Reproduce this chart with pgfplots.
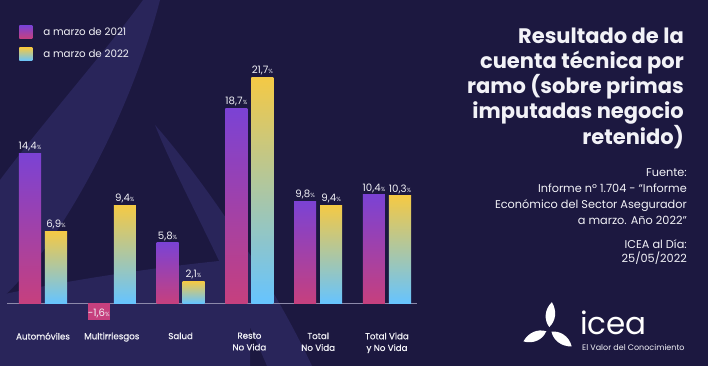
\documentclass[border=0pt]{standalone}
\usepackage{pgfplots}
\pgfplotsset{compat=1.18}
\usepackage{fontspec}
\setmainfont{Poppins}
\IfFontExistsTF{Poppins Bold}{\newfontfamily\titlefont{Poppins Bold}\def\tsize{21}}{\newfontfamily\titlefont{Poppins}[FakeBold=4]\def\tsize{21}}
\newfontfamily\labfont{Poppins}[FakeBold=0.6]
\definecolor{bg}{HTML}{1C1840}
\definecolor{bgl}{HTML}{29255A}
\definecolor{purp}{HTML}{7B42D4}
\definecolor{pinkc}{HTML}{C6407E}
\definecolor{yel}{HTML}{F4C945}
\definecolor{lblue}{HTML}{66C4FF}
\definecolor{basel}{HTML}{8C89AA}
\definecolor{txt}{HTML}{F2F2F7}
\pgfplotsset{
  b21/.style={ybar, bar shift=0pt, draw=none, top color=purp, bottom color=pinkc},
  b22/.style={ybar, bar shift=0pt, draw=none, top color=yel, bottom color=lblue},
}
\begin{document}
\begin{tikzpicture}[x=1pt,y=1pt]
\path[use as bounding box] (0,0) rectangle (708,366);
\clip (0,0) rectangle (708,366);
\fill[bg] (0,0) rectangle (708,366);
% decorative background shapes (y = 366 - pixel row)
\fill[bgl] (143,366) .. controls (110,320) and (40,240) .. (0,186) -- (0,66)
  .. controls (60,120) and (130,250) .. (160,366) -- cycle;
\fill[bgl] (155,241) .. controls (175,190) and (220,110) .. (267,0) -- (312,0)
  .. controls (270,90) and (200,190) .. (155,241) -- cycle;
\fill[bgl] (0,71) .. controls (70,86) and (160,100) .. (250,108) -- (250,0) -- (0,0) -- cycle;
\begin{axis}[
  at={(16,40.2)}, anchor=south west,
  scale only axis, width=409pt, height=260.5pt,
  xmin=-0.465, xmax=5.48, ymin=-2, ymax=23,
  clip=false,
  axis line style={draw=none},
  major tick length=0pt,
  ytick=\empty,
  xtick={0,1,2,3,4,5},
  xticklabels={Automóviles,Multirriesgos,Salud,Resto\\No Vida,Total\\No Vida,Total Vida\\y No Vida},
  xticklabel style={font=\labfont\fontsize{8.7}{11.7}\selectfont, text=txt, align=center, anchor=north, yshift=-5pt},
  bar width=0.32,
  /pgf/number format/assume math mode=true,
  nodes near coords={\pgfmathprintnumber[fixed,precision=1,fixed zerofill,use comma]{\pgfplotspointmeta}{\fontsize{6}{6}\selectfont\%}},
  every node near coord/.append style={font=\fontsize{10.2}{10}\selectfont, text=txt, inner sep=2pt},
  legend style={at={(0.02,1.147)}, anchor=north west, draw=none, fill=none, text=txt,
    font=\fontsize{10.3}{12}\selectfont, row sep=9pt, inner sep=0pt},
  legend cell align=left,
  legend image code/.code={\path[#1,draw=none] (0pt,-6.5pt) rectangle (13pt,6.5pt); \path (13pt,0) -- (22pt,0);},
]
\draw[basel, line width=0.9pt] (axis cs:-0.52,0) -- (axis cs:5.44,0);
% a marzo de 2021
\addplot[b21] coordinates {(-0.189,14.4)};
\addlegendentry{a marzo de 2021}
\addplot[b21, forget plot] coordinates {(1.811,5.8)};
\addplot[b21, forget plot] coordinates {(2.811,18.7)};
\addplot[b21, forget plot] coordinates {(3.811,9.8)};
\addplot[b21, forget plot] coordinates {(4.811,10.4)};
\addplot[ybar, bar shift=0pt, draw=none, fill=pinkc, forget plot,
  every node near coord/.append style={anchor=center, yshift=6pt}] coordinates {(0.811,-1.6)};
% a marzo de 2022
\addplot[b22] coordinates {(0.189,6.9)};
\addlegendentry{a marzo de 2022}
\addplot[b22, forget plot] coordinates {(1.189,9.4)};
\addplot[b22, forget plot] coordinates {(2.189,2.1)};
\addplot[b22, forget plot] coordinates {(3.189,21.7)};
\addplot[b22, forget plot] coordinates {(4.189,9.4)};
\addplot[b22, forget plot] coordinates {(5.189,10.3)};
\end{axis}
% title
\begin{scope}[every node/.style={anchor=base east, text=txt, inner sep=0pt}]
\node[font=\titlefont\fontsize{\tsize}{\tsize}\selectfont] at (684,322.7) {Resultado de la};
\node[font=\titlefont\fontsize{\tsize}{\tsize}\selectfont] at (684,297.7) {cuenta técnica por};
\node[font=\titlefont\fontsize{\tsize}{\tsize}\selectfont] at (684,272) {ramo (sobre primas};
\node[font=\titlefont\fontsize{\tsize}{\tsize}\selectfont] at (684,247) {imputadas negocio};
\node[font=\titlefont\fontsize{\tsize}{\tsize}\selectfont] at (684,221) {retenido)};
\node[font=\fontsize{11.3}{11}\selectfont] at (687,189) {Fuente:};
\node[font=\fontsize{11.3}{11}\selectfont] at (687,173) {Informe nº 1.704 - “Informe};
\node[font=\fontsize{11.3}{11}\selectfont] at (687,157) {Económico del Sector Asegurador};
\node[font=\fontsize{11.3}{11}\selectfont] at (687,141) {a marzo. Año 2022”};
\node[font=\fontsize{11.3}{11}\selectfont] at (687,117) {ICEA al Día:};
\node[font=\fontsize{11.3}{11}\selectfont] at (687,103) {25/05/2022};
\end{scope}
% logo
\begin{scope}[shift={(549,36)}]
\foreach \a in {84,204,324}{
  \fill[white, rotate=\a-90] (0,3) .. controls (6,10) and (6,20) .. (0,28) .. controls (-7,20) and (-6,9) .. (0,3) -- cycle;
}
\end{scope}
\node[anchor=base west, text=white, inner sep=0pt, text depth=0pt, font=\fontsize{31}{31}\selectfont] at (580,31) {icea};
\node[anchor=base west, text=txt, inner sep=0pt, font=\fontsize{8}{8}\selectfont] at (582,16) {El Valor del Conocimiento};
\end{tikzpicture}
\end{document}
